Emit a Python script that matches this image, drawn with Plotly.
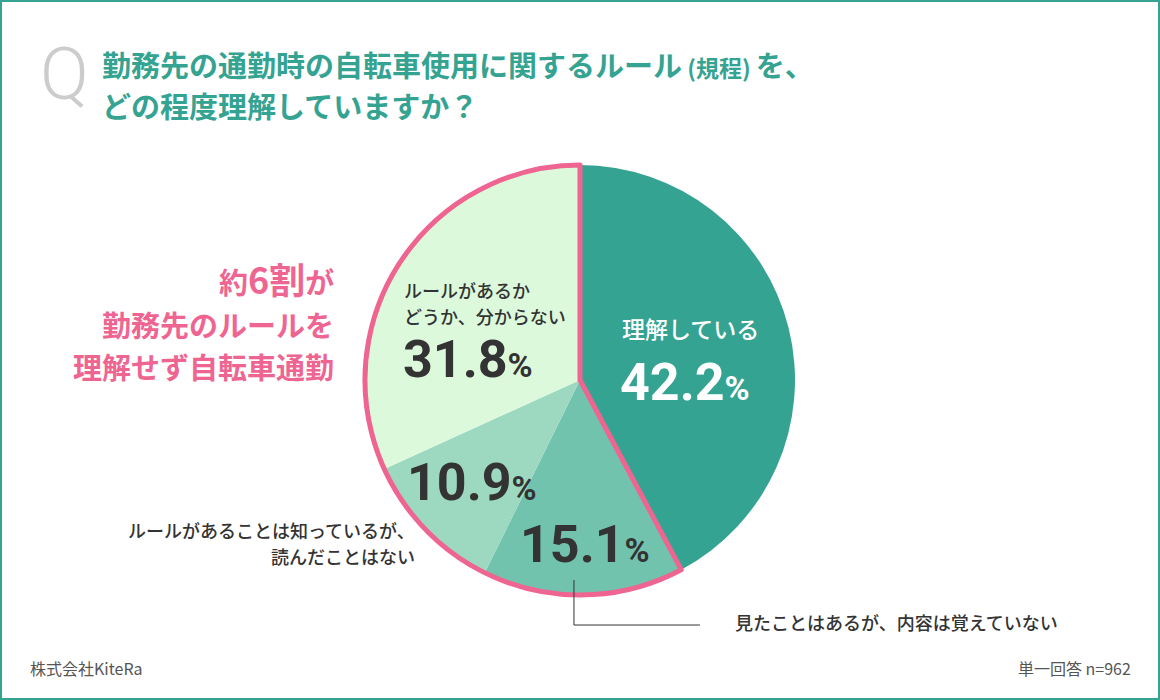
import plotly.graph_objects as go

# survey answers, clockwise from 12 o'clock
labels = [
    "理解している",
    "見たことはあるが、内容は覚えていない",
    "ルールがあることは知っているが、読んだことはない",
    "ルールがあるかどうか、分からない",
]
values = [42.2, 15.1, 10.9, 31.8]
colors = ["#35a391", "#72c3ae", "#9dd8c0", "#dcf9dc"]

title_line1 = "勤務先の通勤時の自転車使用に関するルール"
title_note = " (規程) "
title_line1_end = "を、"
title_line2 = "どの程度理解していますか？"
callout = ["約", "6割", "が", "勤務先のルールを", "理解せず自転車通勤"]
source = "株式会社KiteRa"
sample = "単一回答 n=962"

teal = "#35a391"
pink = "#ef6591"
dark = "#333333"
jp = "Noto Sans CJK JP"
num_font = "Roboto"

domain = dict(x=[365 / 1160, 795 / 1160], y=[1 - 595 / 700, 1 - 165 / 700])

fig = go.Figure()
fig.add_trace(go.Pie(
    labels=labels, values=values, sort=False, direction="clockwise", rotation=0,
    marker=dict(colors=colors, line=dict(width=0)),
    textinfo="none", hoverinfo="label+percent", showlegend=False, domain=domain,
))

# pink outline around everyone who does not understand the rule
group_values = [values[0], sum(values[1:])]
fig.add_trace(go.Pie(
    labels=["understand", "not"], values=group_values, sort=False,
    direction="clockwise", rotation=0,
    marker=dict(colors=["rgba(0,0,0,0)", "rgba(0,0,0,0)"],
                line=dict(color=["rgba(0,0,0,0)", pink], width=[0, 5])),
    textinfo="none", hoverinfo="skip", showlegend=False, domain=domain,
))


def pct(v, size=52, small=34):
    return (f"<span style='font-size:{size}px'>{v}</span>"
            f"<span style='font-size:{small}px'>%</span>")


def px(x, y):
    return x / 1160, 1 - y / 700


annotations = []


def add(text, x, y, xanchor="center", size=17, color=dark, family=jp, weight=500):
    ax, ay = px(x, y)
    annotations.append(dict(
        text=text, x=ax, y=ay, xref="paper", yref="paper",
        xanchor=xanchor, yanchor="middle", showarrow=False,
        align="center" if xanchor == "center" else xanchor,
        font=dict(size=size, color=color, family=family, weight=weight),
    ))


# slice labels
add(labels[0], 690, 328, size=23, color="white")
add("<b>" + pct(values[0]) + "</b>", 685, 382, color="white", family=num_font)

add("ルールがあるか", 402, 290, xanchor="left", size=18)
add("どうか、分からない", 402, 316, xanchor="left", size=18)
add("<b>" + pct(values[3]) + "</b>", 401, 360, xanchor="left", family=num_font)

add("<b>" + pct(values[2]) + "</b>", 472, 483, family=num_font)
add("<b>" + pct(values[1]) + "</b>", 585, 544, family=num_font)

add("ルールがあることは知っているが、", 417, 530, xanchor="right", size=18)
add("読んだことはない", 417, 556, xanchor="right", size=18)
add(labels[1], 733, 622, xanchor="left", size=18)

# pink call-out on the left
add(f"<b>{callout[0]}<span style='font-size:36px'>{callout[1]}</span>{callout[2]}</b>",
    336, 278, xanchor="right", size=29, color=pink, weight=700)
add(f"<b>{callout[3]}</b>", 336, 324, xanchor="right", size=29, color=pink, weight=700)
add(f"<b>{callout[4]}</b>", 336, 366, xanchor="right", size=29, color=pink, weight=700)

# question title
add("Q", 64, 74, size=72, color="#cccccc", family="Roboto", weight=300)
add(f"<b>{title_line1}<span style='font-size:23px'>{title_note}</span>{title_line1_end}</b>",
    100, 64, xanchor="left", size=29, color=teal, weight=700)
add(f"<b>{title_line2}</b>", 100, 105, xanchor="left", size=29, color=teal, weight=700)

# footer
add(source, 28, 668, xanchor="left", size=16, color="#555555", weight=400)
add(sample, 1133, 668, xanchor="right", size=16, color="#555555", weight=400)

shapes = [
    dict(type="rect", xref="paper", yref="paper", x0=0, y0=0, x1=1, y1=1,
         line=dict(color=teal, width=4)),
    dict(type="path", xref="paper", yref="paper",
         path="M {:.4f},{:.4f} L {:.4f},{:.4f} L {:.4f},{:.4f}".format(
             *px(574, 580), *px(574, 625), *px(700, 625)),
         line=dict(color=dark, width=1)),
]

fig.update_layout(
    width=1160, height=700,
    margin=dict(l=0, r=0, t=0, b=0),
    paper_bgcolor="white", plot_bgcolor="white",
    annotations=annotations, shapes=shapes,
    font=dict(family=jp),
)

fig.write_html("out.html", config={"displayModeBar": False},
               post_script="document.body.style.margin='0';document.body.style.overflow='hidden';")
